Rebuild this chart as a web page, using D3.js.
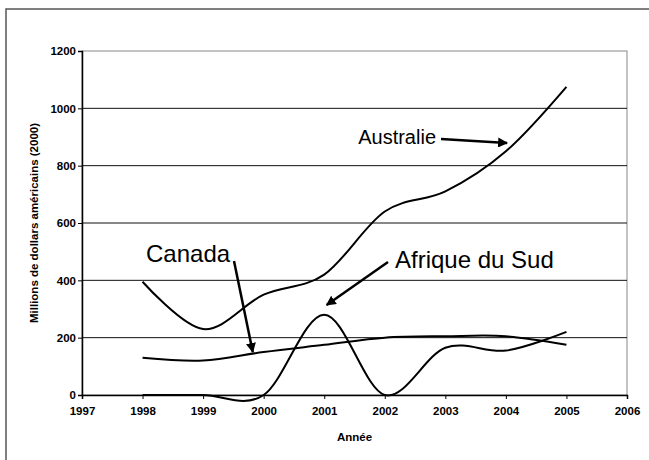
<!DOCTYPE html>
<html><head><meta charset="utf-8">
<script src="https://cdn.jsdelivr.net/npm/d3@7"></script>
<style>body{margin:0;background:#fff}svg{display:block}text{font-family:"Liberation Sans",Arial,sans-serif}</style>
</head><body><svg id="c" width="649" height="460"></svg>
<script>
const years = [1998, 1999, 2000, 2001, 2002, 2003, 2004, 2005];
const australie = [395, 230, 350, 420, 640, 710, 850, 1075];
const canada = [130, 120, 150, 175, 200, 205, 205, 175];
const afriqueDuSud = [0, 0, 0, 280, 0, 165, 155, 220];
const xTicks = [1997, 1998, 1999, 2000, 2001, 2002, 2003, 2004, 2005, 2006];
const yTicks = [0, 200, 400, 600, 800, 1000, 1200];
const annotations = [
  {label: "Australie", size: 20, tx: 436, ty: 144, anchor: "end", from: [441, 139], to: [2004.02, 879]},
  {label: "Canada", size: 24, tx: 146, ty: 262, anchor: "start", from: [234, 261], to: [1999.82, 150]},
  {label: "Afrique du Sud", size: 24, tx: 395, ty: 268, anchor: "start", from: [388, 262], to: [2001.04, 314]}
];

const svg = d3.select("#c");
const L = 82, R = 627, T = 51, B = 395;
const FONT = "'Liberation Sans', Arial, sans-serif";
const x = d3.scaleLinear().domain([1997, 2006]).range([L, R]);
const y = d3.scaleLinear().domain([0, 1200]).range([B, T]);

// outer frame
svg.append("rect").attr("x", 6).attr("y", 9).attr("width", 700).attr("height", 500)
  .attr("fill", "none").attr("stroke", "#555").attr("stroke-width", 1.5);

// plot border
svg.append("rect").attr("x", L).attr("y", T).attr("width", R - L).attr("height", B - T)
  .attr("fill", "none").attr("stroke", "#888").attr("stroke-width", 1);

// gridlines
svg.append("g").selectAll("line").data(yTicks.filter(d => d > 0 && d < 1200)).join("line")
  .attr("x1", L).attr("x2", R).attr("y1", d => y(d)).attr("y2", d => y(d))
  .attr("stroke", "#111").attr("stroke-width", 1);

// axes
const yAxis = svg.append("g").attr("transform", `translate(${L},0)`)
  .call(d3.axisLeft(y).tickValues(yTicks).tickFormat(d3.format("d")).tickSizeOuter(0).tickSize(4));
const xAxis = svg.append("g").attr("transform", `translate(0,${B})`)
  .call(d3.axisBottom(x).tickValues(xTicks).tickFormat(d3.format("d")).tickSizeOuter(0).tickSize(4));
[yAxis, xAxis].forEach(a => {
  a.select(".domain").attr("stroke", "#000").attr("stroke-width", 1.5);
  a.selectAll(".tick line").attr("stroke", "#000").attr("stroke-width", 1);
  a.selectAll("text").attr("font-family", FONT)
    .attr("font-size", 11.5).attr("font-weight", "bold").attr("fill", "#000");
});
yAxis.selectAll("text").attr("x", -6);
xAxis.selectAll("text").attr("y", 12);

// axis titles
svg.append("text").attr("transform", `translate(38,${(T + B) / 2}) rotate(-90)`)
  .attr("text-anchor", "middle").attr("font-size", 11.5).attr("font-weight", "bold")
  .text("Millions de dollars américains (2000)");
svg.append("text").attr("x", (L + R) / 2).attr("y", 441).attr("text-anchor", "middle")
  .attr("font-size", 11.5).attr("font-weight", "bold").text("Année");

// lines
const line = d3.line().x((d, i) => x(years[i])).y(d => y(d)).curve(d3.curveCardinal.tension(0));
[australie, canada, afriqueDuSud].forEach(s => {
  svg.append("path").attr("d", line(s)).attr("fill", "none").attr("stroke", "#000").attr("stroke-width", 2);
});

// arrows
svg.append("defs").append("marker").attr("id", "ah").attr("viewBox", "0 0 10 10")
  .attr("refX", 9).attr("refY", 5).attr("markerWidth", 4).attr("markerHeight", 4)
  .attr("markerUnits", "strokeWidth").attr("orient", "auto")
  .append("path").attr("d", "M0,0 L10,5 L0,10 z").attr("fill", "#000");
annotations.forEach(a => {
  svg.append("line").attr("x1", a.from[0]).attr("y1", a.from[1])
    .attr("x2", x(a.to[0])).attr("y2", y(a.to[1]))
    .attr("stroke", "#000").attr("stroke-width", 2.5).attr("marker-end", "url(#ah)");
  svg.append("text").attr("x", a.tx).attr("y", a.ty).attr("text-anchor", a.anchor)
    .attr("font-size", a.size).text(a.label);
});
</script></body></html>
